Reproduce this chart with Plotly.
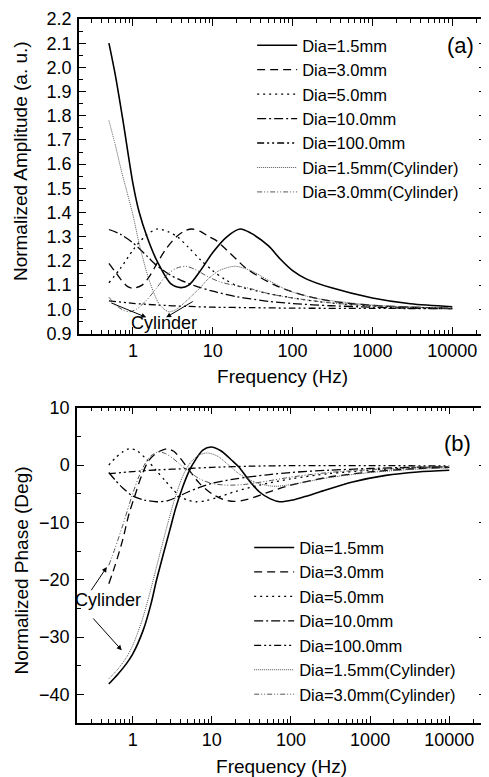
import plotly.graph_objects as go

# ---------------- data: panel (a) normalized amplitude ----------------
f_a_15 = [0.5, 0.6, 0.75, 1.0, 1.2, 1.5, 2.0, 3.0, 4.0, 5.0, 7.0, 10, 15, 22, 30, 50, 70, 100, 150, 300, 1000, 3000, 10000]
amp_15 = [2.10, 1.97, 1.78, 1.52, 1.40, 1.30, 1.20, 1.105, 1.09, 1.10, 1.16, 1.235, 1.30, 1.332, 1.315, 1.262, 1.208, 1.16, 1.125, 1.09, 1.047, 1.023, 1.011]

f_a_30 = [0.5, 0.6, 0.7, 0.85, 1.0, 1.3, 1.6, 2.0, 2.6, 3.5, 4.5, 5.5, 7, 9, 11, 15, 20, 25, 38, 60, 90, 200, 500, 1000, 3000, 10000]
amp_30 = [1.19, 1.155, 1.125, 1.095, 1.087, 1.10, 1.135, 1.19, 1.25, 1.30, 1.325, 1.332, 1.322, 1.30, 1.285, 1.245, 1.205, 1.175, 1.135, 1.10, 1.077, 1.045, 1.025, 1.017, 1.009, 1.005]

f_a_50 = [0.5, 0.7, 1.0, 1.4, 2.0, 2.8, 3.6, 5, 7, 10, 14, 20, 30, 50, 90, 200, 500, 1000, 3000, 10000]
amp_50 = [1.11, 1.17, 1.245, 1.30, 1.332, 1.32, 1.30, 1.255, 1.205, 1.16, 1.125, 1.098, 1.082, 1.065, 1.05, 1.033, 1.02, 1.014, 1.008, 1.005]

f_a_100 = [0.5, 0.7, 1.0, 1.5, 2.0, 3.0, 4.0, 6.0, 10, 20, 30, 50, 100, 300, 1000, 3000, 10000]
amp_100 = [1.33, 1.31, 1.275, 1.22, 1.18, 1.14, 1.12, 1.097, 1.075, 1.052, 1.043, 1.033, 1.024, 1.015, 1.009, 1.005, 1.003]

f_a_1000 = [0.5, 1, 2, 5, 10, 30, 100, 1000, 10000]
amp_1000 = [1.035, 1.025, 1.018, 1.012, 1.009, 1.007, 1.005, 1.004, 1.003]

f_a_15c = [0.5, 0.6, 0.72, 0.85, 1.0, 1.2, 1.6, 2.15, 2.8, 3.5, 4.5, 5.5, 7, 8.7, 12, 19, 30, 50, 90, 200, 1000, 3000, 10000]
amp_15c = [1.78, 1.68, 1.57, 1.48, 1.39, 1.27, 1.12, 1.02, 0.99, 1.0, 1.03, 1.057, 1.09, 1.125, 1.16, 1.178, 1.16, 1.12, 1.077, 1.045, 1.018, 1.01, 1.005]

f_a_30c = [0.5, 0.6, 0.75, 0.9, 1.1, 1.5, 2.0, 2.6, 3.5, 4.6, 6.0, 8.7, 12, 18, 28, 50, 100, 300, 1000, 3000, 10000]
amp_30c = [1.05, 1.02, 0.997, 0.99, 1.0, 1.04, 1.09, 1.14, 1.17, 1.178, 1.165, 1.135, 1.115, 1.10, 1.088, 1.065, 1.047, 1.027, 1.015, 1.009, 1.005]

# ---------------- data: panel (b) normalized phase ----------------
f_p_15 = [0.5, 0.65, 0.84, 1.0, 1.36, 1.7, 2.0, 2.5, 2.94, 3.5, 4.3, 5.0, 5.8, 7.7, 9.8, 13, 18, 22, 30, 40, 55, 72, 105, 150, 230, 600, 1580, 4000, 10000]
ph_15 = [-38.2, -36.5, -34.6, -33.0, -28.8, -24.3, -20.1, -15.0, -11.4, -7.5, -3.8, -1.5, 0.24, 2.6, 3.15, 2.5, 0.8, -0.35, -2.8, -4.7, -5.9, -6.4, -6.1, -5.5, -4.7, -2.95, -1.8, -1.2, -0.9]

f_p_30 = [0.5, 0.6, 0.75, 0.9, 1.07, 1.3, 1.6, 2.0, 2.7, 3.3, 4.0, 5.0, 7, 10, 14, 19, 28, 50, 100, 300, 1000, 3000, 10000]
ph_30 = [-20.7, -17.5, -13.0, -8.5, -5.3, -1.8, 0.8, 2.1, 2.85, 2.4, 1.2, -0.6, -3.2, -5.0, -6.0, -6.35, -6.0, -4.8, -3.5, -2.1, -1.2, -0.7, -0.4]

f_p_50 = [0.5, 0.6, 0.75, 0.9, 1.1, 1.5, 2.0, 2.6, 3.2, 4.0, 5.0, 6.3, 8.5, 12, 20, 40, 100, 300, 1000, 3000, 10000]
ph_50 = [0.0, 1.2, 2.3, 2.85, 2.6, 1.0, -1.0, -2.8, -4.2, -5.5, -6.1, -6.4, -6.2, -5.6, -4.6, -3.5, -2.4, -1.5, -0.9, -0.5, -0.3]

f_p_100 = [0.5, 0.6, 0.75, 1.0, 1.4, 2.0, 2.8, 3.6, 5.0, 7.0, 10, 20, 50, 100, 300, 1000, 3000, 10000]
ph_100 = [-1.3, -2.6, -4.0, -5.4, -6.1, -6.4, -6.2, -5.6, -4.7, -3.9, -3.2, -2.4, -1.7, -1.3, -0.9, -0.6, -0.4, -0.3]

f_p_1000 = [0.5, 1, 2, 5, 10, 30, 100, 1000, 10000]
ph_1000 = [-1.5, -1.15, -0.85, -0.6, -0.4, -0.2, -0.1, -0.1, -0.15]

f_p_15c = [0.5, 0.65, 0.84, 1.0, 1.3, 1.6, 1.9, 2.3, 2.8, 3.3, 4.0, 4.7, 5.5, 7.0, 9.0, 12, 16, 22, 35, 60, 100, 300, 1000, 3000, 10000]
ph_15c = [-37.3, -35.6, -33.5, -31.5, -27.3, -23.0, -19.0, -14.5, -10.0, -6.5, -3.0, -0.8, 0.6, 1.8, 2.1, 1.5, 0.1, -1.5, -3.0, -3.7, -3.4, -2.2, -1.3, -0.8, -0.5]

f_p_30c = [0.5, 0.6, 0.75, 0.9, 1.0, 1.2, 1.43, 1.7, 2.1, 2.6, 3.2, 3.9, 5.0, 7, 10, 15, 25, 50, 100, 300, 1000, 3000, 10000]
ph_30c = [-17.5, -14.5, -10.5, -7.0, -5.0, -2.0, 0.2, 1.6, 2.3, 2.0, 1.2, 0.2, -1.0, -2.4, -3.2, -3.5, -3.4, -2.8, -2.1, -1.3, -0.8, -0.5, -0.3]

names = ["Dia=1.5mm", "Dia=3.0mm", "Dia=5.0mm", "Dia=10.0mm", "Dia=100.0mm",
         "Dia=1.5mm(Cylinder)", "Dia=3.0mm(Cylinder)"]
amp_series = [(f_a_15, amp_15), (f_a_30, amp_30), (f_a_50, amp_50), (f_a_100, amp_100),
              (f_a_1000, amp_1000), (f_a_15c, amp_15c), (f_a_30c, amp_30c)]
ph_series = [(f_p_15, ph_15), (f_p_30, ph_30), (f_p_50, ph_50), (f_p_100, ph_100),
             (f_p_1000, ph_1000), (f_p_15c, ph_15c), (f_p_30c, ph_30c)]

freq_ticks = [1, 10, 100, 1000, 10000]
freq_ticktext = ["1", "10", "100", "1000", "10000"]

# ---------------- styles ----------------
styles = [
    dict(color="black", width=1.6, dash="solid"),
    dict(color="black", width=1.3, dash="8px,5px"),
    dict(color="black", width=1.3, dash="2px,4px"),
    dict(color="black", width=1.3, dash="9px,3px,2px,3px"),
    dict(color="black", width=1.3, dash="7px,3px,2px,3px,2px,3px"),
    dict(color="#555555", width=1.0, dash="1px,1px"),
    dict(color="#555555", width=1.0, dash="5px,2px,1px,2px,1px,2px"),
]

FONT = "Liberation Sans, Arial, sans-serif"

fig = go.Figure()
for i, (name, (fx, fy)) in enumerate(zip(names, amp_series)):
    fig.add_trace(go.Scatter(x=fx, y=fy, mode="lines", name=name,
                             line=dict(shape="spline", smoothing=0.8, **styles[i]),
                             xaxis="x", yaxis="y", legend="legend", legendgroup="a%d" % i))
for i, (name, (fx, fy)) in enumerate(zip(names, ph_series)):
    fig.add_trace(go.Scatter(x=fx, y=fy, mode="lines", name=name,
                             line=dict(shape="spline", smoothing=0.8, **styles[i]),
                             xaxis="x2", yaxis="y2", legend="legend2", legendgroup="b%d" % i))

axis_common = dict(showline=True, linecolor="black", linewidth=1.5, mirror="allticks",
                   ticks="inside", ticklen=7, tickwidth=1.2, tickcolor="black",
                   showgrid=False, zeroline=False,
                   tickfont=dict(family=FONT, size=18, color="black"))

xcommon = dict(axis_common, type="log", tickvals=freq_ticks, ticktext=freq_ticktext,
               minor=dict(ticks="inside", ticklen=4, tickcolor="black", dtick="D1", showgrid=False),
               title=dict(text="Frequency (Hz)", font=dict(family=FONT, size=19, color="black"), standoff=10))

# page is offset by the 8px default body margin: figure pixel = reference pixel - 8
OFF = 8
W, H = 489 - OFF, 777 - OFF
ml, mr, mt, mb = 77 - OFF, 1, 18 - OFF, 54
pw, ph = W - ml - mr, H - mt - mb

def py(ref_px):
    return (H - mb - (ref_px - OFF)) / ph

def pxf(ref_px):
    return ((ref_px - OFF) - ml) / pw

LEG_FONT = dict(family=FONT, size=16.5, color="black")
TITLE_FONT = dict(family=FONT, size=19, color="black")

fig.update_layout(
    width=W, height=H,
    margin=dict(l=ml, r=mr, t=mt, b=mb),
    paper_bgcolor="white", plot_bgcolor="white",
    font=dict(family=FONT, size=18, color="black"),
    xaxis=dict(xcommon, domain=[pxf(79), 1.0], range=[-0.676, 4.423], anchor="y"),
    yaxis=dict(axis_common, domain=[py(333), 1.0], range=[0.9, 2.2], dtick=0.1, tickformat=".1f",
               ticklabelstandoff=2,
               minor=dict(ticks="inside", ticklen=4, tickcolor="black", dtick=0.05),
               anchor="x"),
    xaxis2=dict(xcommon, domain=[0.0, 1.0], range=[-0.703, 4.464], anchor="y2"),
    yaxis2=dict(axis_common, domain=[0.0, py(407.3)], range=[-45, 10], dtick=10,
                ticklabelstandoff=2,
                minor=dict(ticks="inside", ticklen=4, tickcolor="black", dtick=5),
                anchor="x2"),
    legend=dict(x=pxf(253), y=py(27), xanchor="left", yanchor="top", bgcolor="rgba(0,0,0,0)",
                font=LEG_FONT, tracegroupgap=0, itemwidth=40),
    legend2=dict(x=pxf(250), y=py(530), xanchor="left", yanchor="top", bgcolor="rgba(0,0,0,0)",
                 font=LEG_FONT, tracegroupgap=0, itemwidth=40),
    showlegend=True,
)

ann_font = dict(family=FONT, size=18, color="black")
annotations = [
    # y-axis titles
    dict(text="Normalized Amplitude (a. u.)", x=pxf(21), y=py(160), xref="paper", yref="paper",
         textangle=-90, showarrow=False, font=TITLE_FONT, xanchor="center", yanchor="middle"),
    dict(text="Normalized Phase (Deg)", x=pxf(21), y=py(570), xref="paper", yref="paper",
         textangle=-90, showarrow=False, font=TITLE_FONT, xanchor="center", yanchor="middle"),
    dict(text="(a)", x=4.1, y=2.09, xref="x", yref="y", showarrow=False, font=dict(family=FONT, size=22, color="black")),
    dict(text="(b)", x=4.1, y=3.8, xref="x2", yref="y2", showarrow=False, font=dict(family=FONT, size=22, color="black")),
    # panel (a) Cylinder label with two arrows
    dict(text="Cylinder", x=0.395, y=0.945, xref="x", yref="y", showarrow=False, font=ann_font),
    dict(text="", x=0.167, y=0.967, ax=-0.29, ay=1.029, xref="x", yref="y", axref="x", ayref="y",
         showarrow=True, arrowhead=2, arrowsize=1, arrowwidth=1, arrowcolor="black"),
    dict(text="", x=0.416, y=0.967, ax=0.768, ay=1.036, xref="x", yref="y", axref="x", ayref="y",
         showarrow=True, arrowhead=2, arrowsize=1, arrowwidth=1, arrowcolor="black"),
    # panel (b) Cylinder label with two arrows
    dict(text="Cylinder", x=-0.31, y=-23.6, xref="x2", yref="y2", showarrow=False, font=ann_font),
    dict(text="", x=-0.326, y=-17.8, ax=-0.536, ay=-22.1, xref="x2", yref="y2", axref="x2", ayref="y2",
         showarrow=True, arrowhead=2, arrowsize=1, arrowwidth=1, arrowcolor="black"),
    dict(text="", x=-0.138, y=-32.3, ax=-0.515, ay=-26.5, xref="x2", yref="y2", axref="x2", ayref="y2",
         showarrow=True, arrowhead=2, arrowsize=1, arrowwidth=1, arrowcolor="black"),
]
fig.update_layout(annotations=annotations)

fig.write_html("out.html")
